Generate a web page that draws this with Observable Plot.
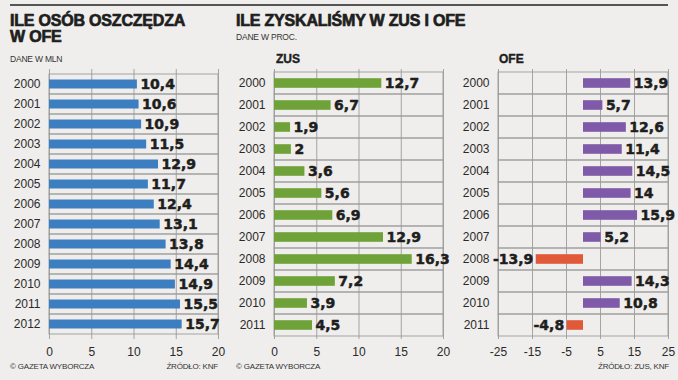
<!DOCTYPE html>
<html>
<head>
<meta charset="utf-8">
<script src="https://cdn.jsdelivr.net/npm/d3@7"></script>
<script src="https://cdn.jsdelivr.net/npm/@observablehq/plot@0.6"></script>
<style>
  html, body { margin: 0; padding: 0; }
  body { width: 678px; height: 380px; background: #efeeec; font-family: "Liberation Sans", Arial, sans-serif; color: #222; overflow: hidden; }
  #wrap { position: relative; width: 678px; height: 380px; }
  .abs { position: absolute; white-space: nowrap; }
  .title { font-weight: bold; font-size: 16px; line-height: 16px; color: #1e1e1e; -webkit-text-stroke: 0.7px #1e1e1e; letter-spacing: -0.2px; }
  .sub { font-size: 8.5px; color: #333; letter-spacing: -0.2px; }
  .head { font-weight: bold; font-size: 12px; color: #1e1e1e; -webkit-text-stroke: 0.4px #1e1e1e; }
  .foot { font-size: 8px; color: #333; letter-spacing: -0.2px; }
  .rule { position: absolute; left: 10px; top: 4px; width: 658px; height: 2px; background: #555; }
  .plot { position: absolute; top: 60px; }
</style>
</head>
<body>
<div id="wrap">
  <div class="rule"></div>
  <div class="abs title" style="left:10px; top:13px;">ILE OSÓB OSZCZĘDZA<br>W OFE</div>
  <div class="abs sub" style="left:10px; top:54px;">DANE W MLN</div>
  <div class="abs title" style="left:236px; top:13px;">ILE ZYSKALIŚMY W ZUS I OFE</div>
  <div class="abs sub" style="left:236px; top:32px;">DANE W PROC.</div>
  <div class="abs head" style="left:276px; top:52px;">ZUS</div>
  <div class="abs head" style="left:499px; top:52px;">OFE</div>
  <div class="abs foot" style="left:10px; top:362px;">© GAZETA WYBORCZA</div>
  <div class="abs foot" style="right:460px; top:362px;">ŹRÓDŁO: KNF</div>
  <div class="abs foot" style="left:236px; top:362px;">© GAZETA WYBORCZA</div>
  <div class="abs foot" style="right:9px; top:362px;">ŹRÓDŁO: ZUS, KNF</div>
  <div id="p1" class="plot" style="left:0px;"></div>
  <div id="p2" class="plot" style="left:230px;"></div>
  <div id="p3" class="plot" style="left:455px;"></div>
</div>
<script>
// Data
const yearsMembers = ["2000","2001","2002","2003","2004","2005","2006","2007","2008","2009","2010","2011","2012"];
const members = [10.4, 10.6, 10.9, 11.5, 12.9, 11.7, 12.4, 13.1, 13.8, 14.4, 14.9, 15.5, 15.7];

const yearsReturns = ["2000","2001","2002","2003","2004","2005","2006","2007","2008","2009","2010","2011"];
const zus = [12.7, 6.7, 1.9, 2, 3.6, 5.6, 6.9, 12.9, 16.3, 7.2, 3.9, 4.5];
const ofe = [13.9, 5.7, 12.6, 11.4, 14.5, 14, 15.9, 5.2, -13.9, 14.3, 10.8, -4.8];

const ticksPos = [0, 5, 10, 15, 20];
const ticksOfe = [-25, -15, -5, 5, 15, 25];

const colors = { blue: "#3c7ec0", green: "#6fa238", purple: "#7f5aa8", red: "#e05a3a" };

const fmt = v => String(v).replace(".", ",");
const gridColor = "#9b9b9b";
const labelFont = { fontWeight: "bold", fontSize: 14, fontFamily: "DejaVu Sans, sans-serif", fill: "#1e1e1e", stroke: "#1e1e1e", strokeWidth: 0.5 };

function panel({years, values, domain, ticks, width, marginLeft, marginRight, inset, colorFn}) {
  const data = years.map((y, i) => ({year: y, value: values[i]}));
  return Plot.plot({
    width, height: 300,
    marginLeft, marginRight, marginTop: 9, marginBottom: 21,
    style: { background: "transparent", fontFamily: "Liberation Sans, Arial, sans-serif", fontSize: "12px", color: "#2a2a2a" },
    x: { domain, ticks, tickSize: 0, tickPadding: 8, label: null, tickFormat: d => String(d) },
    y: { domain: years, padding: 0, tickSize: 0, tickPadding: 9, label: null },
    marks: [
      Plot.barX(years, { y: d => d, x1: domain[0], x2: domain[1], fill: "none", stroke: gridColor, strokeWidth: 0.9 }),
      Plot.ruleX(ticks, { stroke: gridColor, strokeWidth: 0.9 }),
      Plot.barX(data, { y: "year", x1: 0, x2: "value", fill: d => colorFn(d.value), insetTop: inset, insetBottom: inset }),
      Plot.text(data.filter(d => d.value >= 0), {
        y: "year", x: "value", text: d => fmt(d.value), textAnchor: "start", dx: 3, ...labelFont
      }),
      Plot.text(data.filter(d => d.value < 0), {
        y: "year", x: "value", text: d => fmt(d.value), textAnchor: "end", dx: -3, ...labelFont
      })
    ]
  });
}

document.getElementById("p1").append(panel({
  years: yearsMembers, values: members, domain: [0, 20], ticks: ticksPos,
  width: 230, marginLeft: 49, marginRight: 12, inset: 5.5, colorFn: () => colors.blue
}));
document.getElementById("p2").append(panel({
  years: yearsReturns, values: zus, domain: [0, 20], ticks: ticksPos,
  width: 225, marginLeft: 44, marginRight: 12, inset: 6.2, colorFn: () => colors.green
}));
document.getElementById("p3").append(panel({
  years: yearsReturns, values: ofe, domain: [-25, 25], ticks: ticksOfe,
  width: 223, marginLeft: 43, marginRight: 10, inset: 6.2, colorFn: v => v < 0 ? colors.red : colors.purple
}));
</script>
</body>
</html>
